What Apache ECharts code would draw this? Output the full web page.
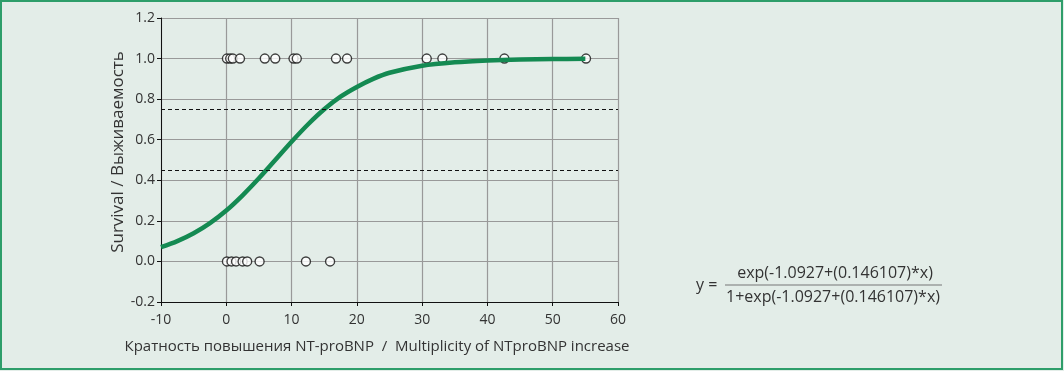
<!DOCTYPE html>
<html>
<head>
<meta charset="utf-8">
<script src="https://cdn.jsdelivr.net/npm/echarts@6/dist/echarts.min.js"></script>
<style>
html,body{margin:0;padding:0;background:#e3ede8;}
#c{width:1064px;height:371px;}
</style>
</head>
<body>
<div id="c"></div>
<script>
// Observed outcomes: survivors (y = 1) and non-survivors (y = 0)
var survivedX = [0.1, 0.6, 1.0, 2.1, 5.9, 7.5, 10.3, 10.8, 16.8, 18.5, 30.7, 33.1, 42.6, 55.1];
var diedX = [0.1, 0.8, 1.5, 2.5, 3.2, 5.1, 12.2, 15.9];
// Fitted logistic curve
var curveX = [-10, -7.5, -5, -2.5, 0, 2.5, 5, 7.5, 10, 12.5, 15, 17.5, 20, 22.5, 25, 30, 35, 40, 45, 50, 55];
var curveY = [0.07, 0.10, 0.139, 0.189, 0.251, 0.326, 0.41, 0.50, 0.59, 0.675, 0.75, 0.812, 0.86, 0.90, 0.93, 0.965, 0.982, 0.991, 0.996, 0.998, 0.999];
// Reference thresholds (dashed lines)
var thresholds = [0.75, 0.45];
var xTitle = 'Кратность повышения NT-proBNP  /  Multiplicity of NTproBNP increase';
var yTitle = 'Survival / Выживаемость';
var formulaNum = 'exp(-1.0927+(0.146107)*x)';
var formulaDen = '1+exp(-1.0927+(0.146107)*x)';

var FONT = '"Open Sans", "Noto Sans", sans-serif';
var chart = echarts.init(document.getElementById('c'));
var curve = curveX.map(function (x, i) { return [x, curveY[i]]; });
var pts = survivedX.map(function (x) { return [x, 1]; }).concat(diedX.map(function (x) { return [x, 0]; }));

chart.setOption({
  backgroundColor: '#e3ede8',
  animation: false,
  grid: { left: 161, right: 446, top: 18, bottom: 69 },
  xAxis: {
    type: 'value', min: -10, max: 60, interval: 10,
    axisLine: { onZero: false, lineStyle: { color: '#111', width: 1 } },
    axisTick: { show: true, length: 4, lineStyle: { color: '#111' } },
    axisLabel: { fontFamily: FONT, fontSize: 14, color: '#333', margin: 11 },
    splitLine: { show: true, lineStyle: { color: '#999', width: 1.2 } }
  },
  yAxis: {
    type: 'value', min: -0.2, max: 1.2, interval: 0.2,
    axisLine: { onZero: false, lineStyle: { color: '#111', width: 1 } },
    axisTick: { show: true, length: 4, lineStyle: { color: '#111' } },
    axisLabel: { fontFamily: FONT, fontSize: 14, color: '#333', margin: 6,
      formatter: function (v) { return v.toFixed(1); } },
    splitLine: { show: true, lineStyle: { color: '#999', width: 1.2 } }
  },
  series: [
    {
      type: 'scatter', data: pts, symbol: 'circle', symbolSize: 9, z: 2,
      itemStyle: { color: '#ffffff', borderColor: '#111', borderWidth: 1.4 },
      markLine: {
        silent: true, symbol: 'none', label: { show: false },
        lineStyle: { color: '#111', type: [4, 3], width: 1.2 },
        data: thresholds.map(function (t) { return { yAxis: t }; })
      }
    },
    {
      type: 'line', data: curve, smooth: 0.3, showSymbol: false, z: 3,
      lineStyle: { color: '#148a52', width: 4.5 }
    }
  ],
  graphic: [
    { type: 'rect', shape: { x: 1, y: 1, width: 1061, height: 368 },
      style: { fill: 'none', stroke: '#2e9e6a', lineWidth: 2 }, z: 10 },
    { type: 'text', x: 377, y: 347, style: { text: xTitle, fontFamily: FONT, fontSize: 15, fill: '#333', align: 'center', verticalAlign: 'middle' } },
    { type: 'text', x: 118, y: 152, rotation: Math.PI / 2, style: { text: yTitle, fontFamily: FONT, fontSize: 17, fill: '#333', align: 'center', verticalAlign: 'middle' } },
    { type: 'text', x: 696, y: 285, style: { text: 'y =', fontFamily: FONT, fontSize: 16, fill: '#333', verticalAlign: 'middle' } },
    { type: 'text', x: 835, y: 273, style: { text: formulaNum, fontFamily: FONT, fontSize: 16, fill: '#333', align: 'center', verticalAlign: 'middle' } },
    { type: 'line', shape: { x1: 725, y1: 285, x2: 942, y2: 285 }, style: { stroke: '#777', lineWidth: 1.2 } },
    { type: 'text', x: 833, y: 297, style: { text: formulaDen, fontFamily: FONT, fontSize: 16, fill: '#333', align: 'center', verticalAlign: 'middle' } }
  ]
});
</script>
</body>
</html>
